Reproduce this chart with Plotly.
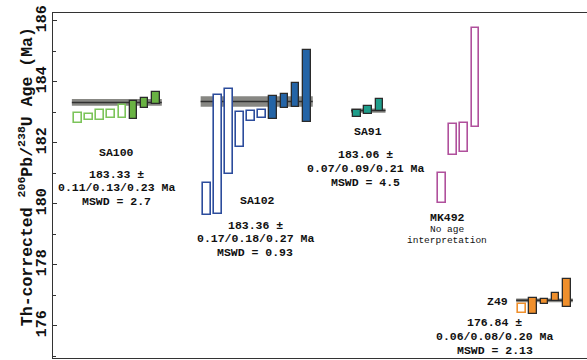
import plotly.graph_objects as go

# ---------------- data (Ma) ----------------
samples = ["SA100", "SA102", "SA91", "MK492", "Z49"]

sa100_low = [182.64, 182.75, 182.75, 182.81, 182.81, 182.79, 183.14, 183.27]
sa100_high = [182.97, 182.94, 183.08, 183.08, 183.25, 183.39, 183.47, 183.66]
sa100_used = [0, 0, 0, 0, 0, 1, 1, 1]

sa102_low = [179.64, 179.66, 180.97, 181.88, 182.72, 182.81, 182.79, 183.14, 183.17, 182.68]
sa102_high = [180.70, 183.57, 183.77, 183.03, 183.05, 183.08, 183.55, 183.61, 183.96, 185.05]
sa102_used = [0, 0, 0, 0, 0, 0, 1, 1, 1, 1]

sa91_low = [182.84, 182.95, 183.06]
sa91_high = [183.08, 183.21, 183.43]
sa91_used = [1, 1, 1]

mk492_low = [180.04, 181.60, 181.69, 182.53]
mk492_high = [181.00, 182.61, 182.66, 185.76]
mk492_used = [0, 0, 0, 0]

z49_low = [176.42, 176.39, 176.72, 176.82, 176.61]
z49_high = [176.71, 176.93, 176.87, 177.09, 177.53]
z49_used = [0, 1, 1, 1, 1]

mean_age = [183.33, 183.36, 183.06, None, 176.84]
mean_err = [0.11, 0.17, 0.07, None, 0.06]

age_text = ["183.33 \u00b1", "183.36 \u00b1", "183.06 \u00b1", None, "176.84 \u00b1"]
err_text = ["0.11/0.13/0.23 Ma", "0.17/0.18/0.27 Ma", "0.07/0.09/0.21 Ma", None, "0.06/0.08/0.20 Ma"]
mswd_text = ["MSWD = 2.7", "MSWD = 0.93", "MSWD = 4.5", None, "MSWD = 2.13"]

y_ticks = [176, 178, 180, 182, 184, 186]

# ---------------- layout / style ----------------
lows = [sa100_low, sa102_low, sa91_low, mk492_low, z49_low]
highs = [sa100_high, sa102_high, sa91_high, mk492_high, z49_high]
useds = [sa100_used, sa102_used, sa91_used, mk492_used, z49_used]
group_start = [2.25, 13.85, 27.4, 35.05, 42.27]
fill_col = ["#69b243", "#2464a6", "#1f9e8b", "#b0509c", "#ef8f2c"]
open_col = ["#7cc45a", "#2c4c9c", "#1f9e8b", "#b0509c", "#ef8f2c"]
dark = "#2a2a2a"
BW = 0.7
FONT = "Liberation Mono"

# label positions (x slot, y value)
lab_pos = [(5.7, 181.70), (18.45, 180.10), (28.38, 182.39), (35.5, 179.57), (40.0, 176.79)]
blk_pos = [(5.7, 180.98), (18.2, 179.31), (28.15, 181.61), None, (39.8, 176.10)]
LINE = 0.455

fig = go.Figure()
shapes = []
annotations = []

for g in range(len(samples)):
    lo, hi, us = lows[g], highs[g], useds[g]
    xs = [group_start[g] + i for i in range(len(lo))]
    if mean_age[g] is not None:
        x0 = xs[0] - 0.55
        x1 = xs[-1] + 0.55
        m, e = mean_age[g], mean_err[g]
        shapes.append(dict(type="rect", xref="x", yref="y", x0=x0, x1=x1, y0=m - e, y1=m + e,
                           fillcolor="rgba(95,95,90,0.75)", line=dict(width=0), layer="below"))
        shapes.append(dict(type="line", xref="x", yref="y", x0=x0, x1=x1, y0=m, y1=m,
                           line=dict(color="#303030", width=1.5), layer="below"))
    ox = [x for x, u in zip(xs, us) if not u]
    if ox:
        ol = [l for l, u in zip(lo, us) if not u]
        oh = [h for h, u in zip(hi, us) if not u]
        fig.add_trace(go.Bar(x=ox, base=ol, y=[h - l for h, l in zip(oh, ol)], width=BW,
                             marker=dict(color="white", line=dict(color=open_col[g], width=1.6)),
                             showlegend=False, hoverinfo="skip"))
    fx = [x for x, u in zip(xs, us) if u]
    if fx:
        fl = [l for l, u in zip(lo, us) if u]
        fh = [h for h, u in zip(hi, us) if u]
        fig.add_trace(go.Bar(x=fx, base=fl, y=[h - l for h, l in zip(fh, fl)], width=BW,
                             marker=dict(color=fill_col[g], line=dict(color=dark, width=1.3)),
                             showlegend=False, hoverinfo="skip"))
    lx, ly = lab_pos[g]
    annotations.append(dict(x=lx, y=ly, xref="x", yref="y", text="<b>" + samples[g] + "</b>",
                            showarrow=False, font=dict(family=FONT, size=11.5, color="#111")))
    if blk_pos[g] is not None:
        bx, by = blk_pos[g]
        for k, t in enumerate([age_text[g], err_text[g], mswd_text[g]]):
            annotations.append(dict(x=bx, y=by - k * LINE, xref="x", yref="y", text="<b>" + t + "</b>",
                                    showarrow=False, font=dict(family=FONT, size=11.5, color="#111")))

annotations.append(dict(x=35.5, y=179.15, xref="x", yref="y", text="No age", showarrow=False,
                        font=dict(family=FONT, size=9.5, color="#111")))
annotations.append(dict(x=35.5, y=178.79, xref="x", yref="y", text="interpretation", showarrow=False,
                        font=dict(family=FONT, size=9.5, color="#111")))

annotations.append(dict(x=-0.05, y=0.525, xref="paper", yref="paper", textangle=-90,
                        text="<b>Th-corrected <sup>206</sup>Pb/<sup>238</sup>U Age (Ma)</b>",
                        showarrow=False, xanchor="center", yanchor="middle",
                        font=dict(family=FONT, size=16.5, color="#111")))

fig.update_layout(
    width=587, height=360,
    margin=dict(l=53, r=0, t=13, b=2),
    paper_bgcolor="white", plot_bgcolor="white",
    barmode="overlay", bargap=0,
    shapes=shapes, annotations=annotations,
    xaxis=dict(range=[0, 48.1], showgrid=False, zeroline=False, showticklabels=False,
               ticks="", showline=True, mirror=True, linecolor="#333", linewidth=1.2),
    yaxis=dict(range=[174.95, 186.26], showgrid=False, zeroline=False,
               tickvals=y_ticks, ticktext=[str(v) for v in y_ticks],
               ticks="inside", ticklen=4, tickcolor="#333", tickwidth=1,
               minor=dict(dtick=1, ticks="inside", ticklen=3, tickcolor="#333"),
               tickangle=-90, showline=True, linecolor="#333", linewidth=1.2,
               tickfont=dict(family=FONT, size=15, color="#111", weight="bold")),
)

fig.write_html("out.html")
